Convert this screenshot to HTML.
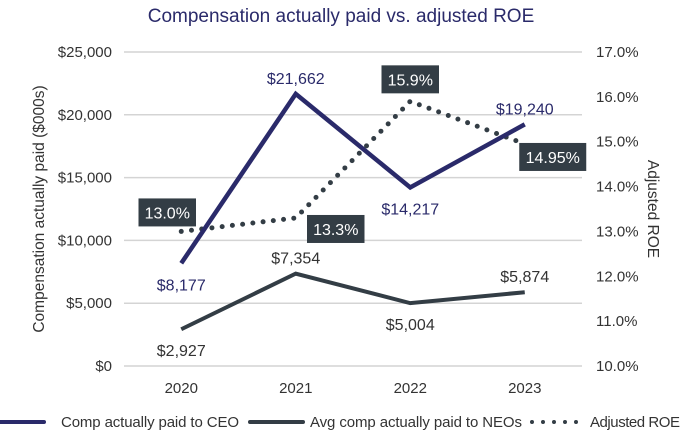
<!DOCTYPE html>
<html><head><meta charset="utf-8"><style>
body{margin:0;background:#fff;font-family:"Liberation Sans",sans-serif}
svg text{font-family:"Liberation Sans",sans-serif}
</style></head><body>
<svg id="c" width="682" height="435" viewBox="0 0 682 435">
<text x="341" y="22" text-anchor="middle" font-size="19" fill="#2a2a6a">Compensation actually paid vs. adjusted ROE</text>
<g id="grid"></g><g id="marks"></g><g id="labels"></g>
<text transform="translate(44,209) rotate(-90)" text-anchor="middle" font-size="15.5" fill="#333">Compensation actually paid ($000s)</text>
<text transform="translate(648,209) rotate(90)" text-anchor="middle" font-size="15.5" fill="#333">Adjusted ROE</text>
<g>
<line x1="0" y1="422" x2="44" y2="422" stroke="#2a2a6a" stroke-width="4" stroke-linecap="round"/>
<text x="61" y="427" font-size="15" fill="#333" textLength="178">Comp actually paid to CEO</text>
<line x1="250" y1="422" x2="303" y2="422" stroke="#333d45" stroke-width="4" stroke-linecap="round"/>
<text x="310" y="427" font-size="15" fill="#333" textLength="212">Avg comp actually paid to NEOs</text>
<line x1="532" y1="422" x2="587" y2="422" stroke="#333d45" stroke-width="4" stroke-dasharray="0 11" stroke-linecap="round"/>
<text x="590" y="427" font-size="15" fill="#333" textLength="90">Adjusted ROE</text>
</g>
</svg>
<script>
const years=["2020","2021","2022","2023"];
const ceo=[8177,21662,14217,19240];
const neo=[2927,7354,5004,5874];
const roe=[13.0,13.3,15.9,14.95];
const roeLabels=["13.0%","13.3%","15.9%","14.95%"];
const leftTicks=[0,5000,10000,15000,20000,25000];
const rightTicks=[10,11,12,13,14,15,16,17];
const NS="http://www.w3.org/2000/svg";
const x0=124,x1=582,yB=366,yT=52;
const xs=i=>x0+(i+0.5)*(x1-x0)/years.length;
const yL=v=>yB-(v/25000)*(yB-yT);
const yR=v=>yB-((v-10)/7)*(yB-yT);
const fmt=v=>"$"+v.toLocaleString("en-US");
function mk(p,tag,a,txt){const e=document.createElementNS(NS,tag);for(const k in a)e.setAttribute(k,a[k]);if(txt!=null)e.textContent=txt;document.getElementById(p).appendChild(e);return e;}
leftTicks.forEach(v=>{
 let l=mk("grid","line",{x1:x0,x2:x1,y1:yL(v),y2:yL(v),stroke:"#d4d4d4","stroke-width":1.5});
 
 
 let t=mk("grid","text",{x:112,y:yL(v)+5,"text-anchor":"end","font-size":15,fill:"#333"},fmt(v));
 
 
});
rightTicks.forEach(v=>{
 let t=mk("grid","text",{x:596,y:yR(v)+5,"font-size":15,fill:"#333"},v.toFixed(1)+"%");
 
 
});
years.forEach((y,i)=>{
 let t=mk("grid","text",{x:xs(i),y:393,"text-anchor":"middle","font-size":15,fill:"#333"},y);
 
 
});
let p=mk("marks","polyline",{points:roe.map((v,i)=>xs(i)+","+yR(v)).join(" "),fill:"none",stroke:"#333d45","stroke-width":5,"stroke-dasharray":"0 10.3","stroke-linecap":"round"});


p=mk("marks","polyline",{points:neo.map((v,i)=>xs(i)+","+yL(v)).join(" "),fill:"none",stroke:"#333d45","stroke-width":4});


p=mk("marks","polyline",{points:ceo.map((v,i)=>xs(i)+","+yL(v)).join(" "),fill:"none",stroke:"#2a2a6a","stroke-width":4.5});


const ceoOff=[22,-15,22,-15], neoOff=[22,-15,22,-15];
ceo.forEach((v,i)=>{
 let t=mk("labels","text",{x:xs(i),y:yL(v)+ceoOff[i]+5,"text-anchor":"middle","font-size":16,fill:"#2a2a6a"},fmt(v));
 
 
});
neo.forEach((v,i)=>{
 let t=mk("labels","text",{x:xs(i),y:yL(v)+neoOff[i]+5,"text-anchor":"middle","font-size":16,fill:"#333"},fmt(v));
 
 
});
const roeDx=[-14,40,0,28], roeDy=[-19,11,-22,13];
roe.forEach((v,i)=>{
 const cx=xs(i)+roeDx[i], cy=yR(v)+roeDy[i], w=roeLabels[i].length*9.5+10;
 let r=mk("labels","rect",{x:cx-w/2,y:cy-14,width:w,height:28,fill:"#333d45"});
 
 
 let t=mk("labels","text",{x:cx,y:cy+6,"text-anchor":"middle","font-size":16,fill:"#fff"},roeLabels[i]);
 
 
});
</script>
</body></html>
